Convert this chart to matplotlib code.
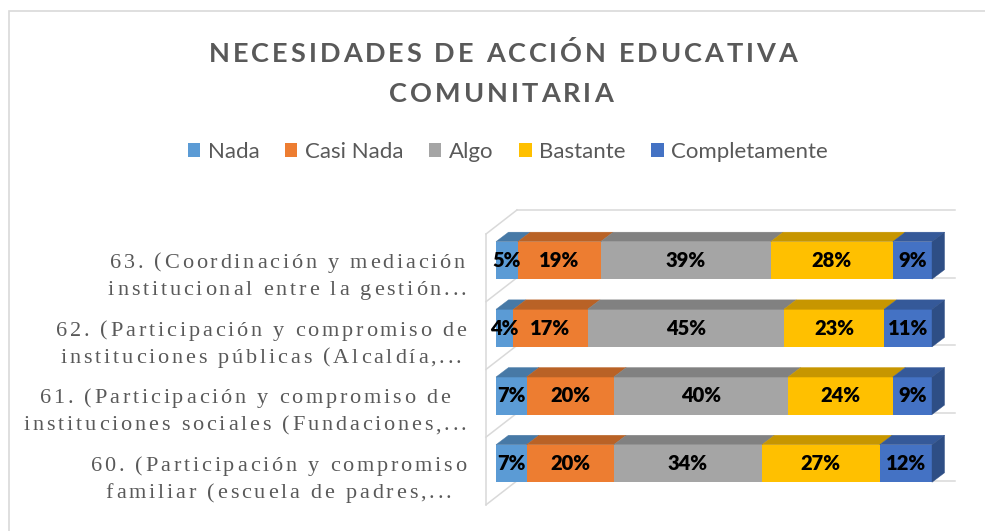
import numpy as np
import matplotlib
matplotlib.use("Agg")
import matplotlib.pyplot as plt
from matplotlib.patches import Patch, Rectangle
from matplotlib.transforms import IdentityTransform
from matplotlib.font_manager import FontProperties, findfont
from matplotlib.ft2font import FT2Font

W, H = 985, 531

title_lines = ["NECESIDADES DE ACCIÓN EDUCATIVA", "COMUNITARIA"]
categories = [
    "60. (Participación y compromiso\nfamiliar (escuela de padres,...",
    "61. (Participación y compromiso de\ninstituciones sociales (Fundaciones,...",
    "62. (Participación y compromiso de\ninstituciones públicas (Alcaldía,...",
    "63. (Coordinación y mediación\ninstitucional entre la gestión...",
]
series = ["Nada", "Casi Nada", "Algo", "Bastante", "Completamente"]
nada = [7, 7, 4, 5]
casi_nada = [20, 20, 17, 19]
algo = [34, 40, 45, 39]
bastante = [27, 24, 23, 28]
completamente = [12, 9, 11, 9]
data = [nada, casi_nada, algo, bastante, completamente]
colors = ["#5B9BD5", "#ED7D31", "#A5A5A5", "#FFC000", "#4472C4"]

TXT = "#595959"
GRID = "#D9D9D9"


def darken(c, f):
    r, g, b = matplotlib.colors.to_rgb(c)
    return (r * f, g * f, b * f)


def advances(s, prop):
    font = FT2Font(findfont(prop), hinting_factor=1)
    font.set_size(prop.get_size_in_points(), 100)
    return [font.load_char(ord(ch)).linearHoriAdvance / 65536 for ch in s]


def text_width(s, prop, spacing):
    return sum(advances(s, prop)) + spacing * (len(s) - 1)


def spaced_text(fig, s, x, y, prop, spacing, color=TXT):
    # draws s centred on x (pixels), baseline at y, with extra letter spacing
    adv = advances(s, prop)
    x0 = x - (sum(adv) + spacing * (len(s) - 1)) / 2
    for ch, a in zip(s, adv):
        if ch != " ":
            fig.text(x0, y, ch, transform=IdentityTransform(), fontproperties=prop,
                     color=color, ha="left", va="baseline")
        x0 += a + spacing


fig = plt.figure(figsize=(W / 100, H / 100), dpi=100)
fig.add_artist(Rectangle((9 / W, -0.1), 1.2, 1.1 - 11.5 / H, transform=fig.transFigure,
                         fill=False, edgecolor=GRID, lw=1.2))

# title
tprop = FontProperties(family="Lato", weight="bold", size=19.5)
spaced_text(fig, title_lines[0], 503, H - 62, tprop, 3.0)
spaced_text(fig, title_lines[1], 501, H - 102, tprop, 3.0)

# legend
handles = [Patch(facecolor=c, edgecolor="none") for c in colors]
fig.legend(handles, series, loc="center", bbox_to_anchor=(508 / W, 1 - 152 / H), ncol=5,
           frameon=False, prop={"family": "Lato", "size": 16}, labelcolor=TXT,
           handlelength=0.55, handleheight=0.55, handletextpad=0.35, columnspacing=1.15)

ax = fig.add_axes([480 / W, 21 / H, 480 / W, 310 / H])
ax.set_xlim(-3.67, 106.42)
ax.set_ylim(-0.687, 3.892)
ax.axis("off")

# 3d walls
grid = np.arange(5) - 0.61
wx0, wx1, wx2, wdy = -2.29, 4.82, 105.3, 0.355
ax.plot([wx0, wx0], [grid[0], grid[-1]], color=GRID, lw=1.1, zorder=0)
for g in grid:
    ax.plot([wx0, wx1], [g, g + wdy], color=GRID, lw=1.1, zorder=0)
    ax.plot([wx1, wx2], [g + wdy, g + wdy], color=GRID, lw=1.1, zorder=0)

ypos = np.arange(len(categories))
bh, ddx, ddy = 0.554, 2.87, 0.14
left = np.zeros(len(categories))
for name, vals, col in zip(series, data, colors):
    vals = np.array(vals)
    ax.barh(ypos, vals, left=left, height=bh, color=col, zorder=2)
    top = darken(col, 0.78)
    for y, l, v in zip(ypos, left, vals):
        yt = y + bh / 2
        ax.fill([l, l + ddx, l + v + ddx, l + v], [yt, yt + ddy, yt + ddy, yt],
                color=top, lw=0.3, zorder=2)
        ax.text(l + v / 2, y, f"{v}%", ha="center", va="center", fontsize=14.5,
                fontweight="heavy", family="Lato", color="black", zorder=3)
    left += vals

side = darken(colors[-1], 0.68)
for y, r in zip(ypos, left):
    ax.fill([r, r + ddx, r + ddx, r], [y - bh / 2, y - bh / 2 + ddy, y + bh / 2 + ddy, y + bh / 2],
            color=side, lw=0.3, zorder=2)

# category labels (right aligned block, lines centred)
lprop = FontProperties(family="Liberation Serif", size=16)
lsp = 2.9
for i, lab in enumerate(categories):
    yc = ax.transData.transform((0, i))[1]
    lines = lab.split("\n")
    maxw = max(text_width(s, lprop, lsp) for s in lines)
    cx = 466 - maxw / 2
    for k, s in enumerate(lines):
        spaced_text(fig, s, cx, yc - 7.5 - 27 * k, lprop, lsp)

fig.savefig("out.png", dpi=100)
